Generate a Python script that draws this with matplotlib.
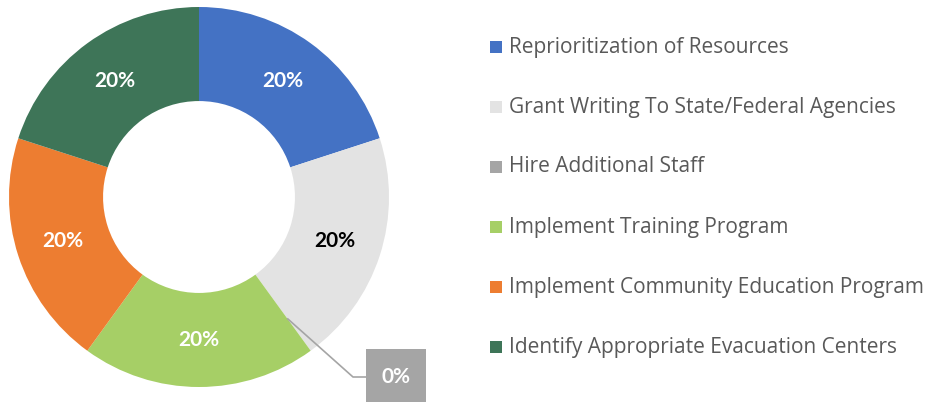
import matplotlib
matplotlib.use("Agg")
import matplotlib.pyplot as plt
from matplotlib.patches import Rectangle
import numpy as np

categories = [
    "Reprioritization of Resources",
    "Grant Writing To State/Federal Agencies",
    "Hire Additional Staff",
    "Implement Training Program",
    "Implement Community Education Program",
    "Identify Appropriate Evacuation Centers",
]
shares = [20, 20, 0, 20, 20, 20]
colors = ["#4472C4", "#E3E3E3", "#A5A5A5", "#A6CF66", "#ED7D31", "#3E7558"]
label_colors = ["white", "black", "white", "white", "white", "white"]

W, H = 930, 403
fig = plt.figure(figsize=(W / 100, H / 100), dpi=100)
ax = fig.add_axes([0, 0, 400 / W, 1])

cx, cy, R = 199, H - 197, 190
wedges, _ = ax.pie(
    shares, colors=colors, startangle=90, counterclock=False,
    center=(cx, cy), radius=R, frame=True,
    wedgeprops=dict(width=R * 0.495, linewidth=0),
)
ax.set_xlim(0, 400)
ax.set_ylim(0, H)
ax.set_aspect("equal")
ax.axis("off")

# percentage labels in the middle of the ring
for w, v, tc in zip(wedges, shares, label_colors):
    if v == 0:
        continue
    ang = np.deg2rad((w.theta1 + w.theta2) / 2)
    r = R * 0.752
    ax.text(cx + r * np.cos(ang), cy + r * np.sin(ang), f"{v}%",
            ha="center", va="center", fontsize=15, fontweight="bold",
            color=tc, family="Lato")

# 0% callout
zw = wedges[2]
ang = np.deg2rad(zw.theta1)
r0 = 150
x0, y0 = cx + r0 * np.cos(ang), cy + r0 * np.sin(ang)
ax.plot([x0, 353, 366], [y0, H - 377, H - 377], color="#A5A5A5", lw=1.2,
        solid_capstyle="butt", zorder=3)
ax.add_patch(Rectangle((366, H - 402), 60, 53, facecolor="#A5A5A5",
                       edgecolor="none", zorder=4, clip_on=False))
ax.text(396, H - 377, f"{shares[2]}%", ha="center", va="center",
        fontsize=15, fontweight="bold", color="white", family="Lato", zorder=5)

# legend
for i, (lab, c) in enumerate(zip(categories, colors)):
    yc = 47 + 60 * i
    fig.patches.append(Rectangle((490 / W, (H - yc - 6) / H), 12 / W, 12 / H,
                                 transform=fig.transFigure, facecolor=c,
                                 edgecolor="none"))
    fig.text(509 / W, (H - yc) / H, lab, ha="left", va="center",
             fontsize=15, color="#595959", family="Open Sans")

fig.savefig("out.png", dpi=100)
